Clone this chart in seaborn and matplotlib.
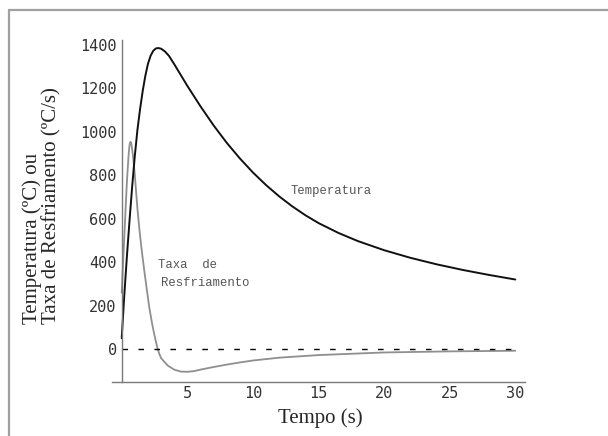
import matplotlib
matplotlib.use("Agg")
import matplotlib.pyplot as plt
import seaborn as sns
import pandas as pd
from matplotlib.lines import Line2D

# Temperature curve (ºC)
time_temp = [0, 0.2, 0.4, 0.6, 0.8, 1.0, 1.2, 1.4, 1.6, 1.8, 2.0, 2.2, 2.4, 2.6, 2.8,
             3.0, 3.3, 3.6, 4.0, 4.5, 5.0, 5.5, 6.0, 7.0, 8.0, 9.0, 10.0, 11.0, 12.0,
             13.0, 14.0, 15.0, 16.5, 18.0, 20.0, 22.0, 24.0, 26.0, 28.0, 30.0]
temperature = [50, 250, 430, 595, 750, 890, 1010, 1105, 1188, 1258, 1313, 1350, 1373, 1384, 1386,
               1383, 1370, 1350, 1312, 1262, 1212, 1165, 1118, 1030, 950, 878, 813, 755, 703,
               657, 616, 580, 535, 497, 455, 420, 390, 364, 341, 320]

# Cooling rate curve (ºC/s)
time_rate = [0, 0.1, 0.2, 0.3, 0.4, 0.5, 0.55, 0.6, 0.65, 0.7, 0.75, 0.8, 0.9, 1.0, 1.1, 1.2,
             1.35, 1.5, 1.7, 1.9, 2.1, 2.3, 2.5, 2.7, 2.85, 3.0, 3.5, 4.0, 4.5, 5.0, 5.5, 6.0,
             7.0, 8.0, 9.0, 10.0, 12.0, 15.0, 20.0, 25.0, 30.0]
cooling_rate = [260, 390, 520, 650, 775, 870, 912, 940, 953, 953, 940, 918, 868, 800, 722, 645,
                550, 468, 370, 280, 192, 122, 62, 10, -20, -42, -76, -95, -104, -105, -102, -95,
                -83, -72, -62, -53, -40, -28, -16, -11, -8]

x_ticks = [5, 10, 15, 20, 25, 30]
y_ticks = [0, 200, 400, 600, 800, 1000, 1200, 1400]

temp_df = pd.DataFrame({"t": time_temp, "v": temperature})
rate_df = pd.DataFrame({"t": time_rate, "v": cooling_rate})

sns.set_style("white")

fig = plt.figure(figsize=(6.08, 4.36), dpi=100)
ax = fig.add_axes([112 / 608, 1 - 382 / 436, 413 / 608, 342 / 436])

# curves
sns.lineplot(data=rate_df, x="t", y="v", ax=ax, color="#8f8f8f", linewidth=1.3, sort=False)
sns.lineplot(data=temp_df, x="t", y="v", ax=ax, color="#111111", linewidth=1.4, sort=False)

# dashed zero line
ax.hlines(0, time_rate[0], time_rate[-1], colors="black", linewidth=1.0,
          linestyles=(0, (4.0, 7.5)))

ax.set_xlim(-0.74, 30.74)
ax.set_ylim(-152, 1423)

ax.spines["left"].set_position(("data", 0))
for side in ["top", "right"]:
    ax.spines[side].set_visible(False)
for side in ["left", "bottom"]:
    ax.spines[side].set_color("#7a7a7a")
    ax.spines[side].set_linewidth(1.0)

ax.set_xticks(x_ticks)
ax.set_yticks(y_ticks)
ax.tick_params(direction="in", length=4, width=0.8, color="#7a7a7a",
               labelsize=11, labelcolor="#333333")
ax.tick_params(axis="y", pad=3.6)
ax.tick_params(axis="x", pad=3)
for lab in ax.get_xticklabels() + ax.get_yticklabels():
    lab.set_family("DejaVu Sans Mono")

ax.set_xlabel("")
ax.set_ylabel("")

# curve labels
ax.text(12.88, 729, "Temperatura", family="Liberation Mono", fontsize=8.8,
        color="#555555", ha="left", va="center")
ax.text(2.8, 387, "Taxa  de", family="Liberation Mono", fontsize=8.8,
        color="#555555", ha="left", va="center")
ax.text(2.98, 303, "Resfriamento", family="Liberation Mono", fontsize=8.8,
        color="#555555", ha="left", va="center")

# axis titles
fig.text(320 / 608, 1 - 418 / 436, "Tempo (s)", family="Liberation Serif",
         fontsize=15, ha="center", va="center")
fig.text(42 / 608, 1 - 206 / 436, "Temperatura (ºC) ou\nTaxa de Resfriamento (ºC/s)",
         family="Liberation Serif", fontsize=15, rotation=90, ha="center", va="center",
         multialignment="left", linespacing=1.05)

# outer frame (top and left edges)
fig.add_artist(Line2D([9 / 608, 1], [1 - 10 / 436, 1 - 10 / 436], color="#a0a0a0",
                      linewidth=1.6, transform=fig.transFigure))
fig.add_artist(Line2D([9 / 608, 9 / 608], [0, 1 - 10 / 436], color="#a0a0a0",
                      linewidth=1.6, transform=fig.transFigure))

fig.savefig("out.png", dpi=100)
